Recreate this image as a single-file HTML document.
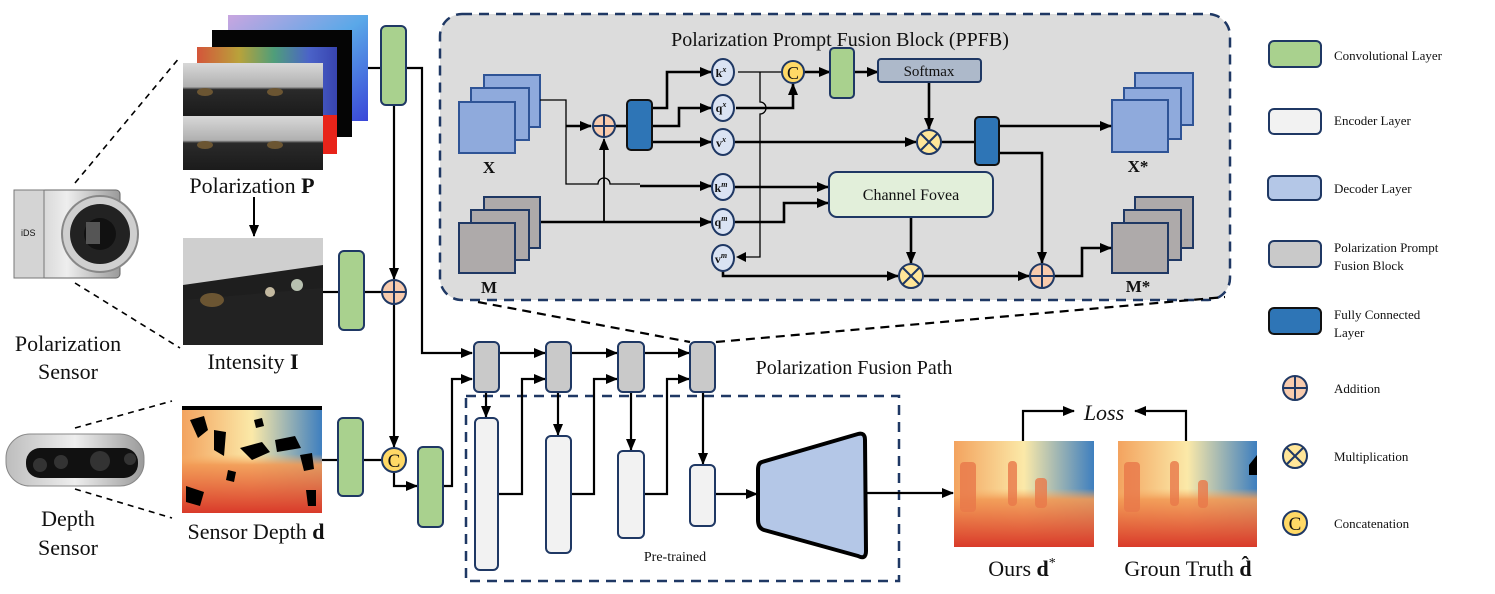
<!DOCTYPE html>
<html><head><meta charset="utf-8"><style>
html,body{margin:0;padding:0;background:#fff;width:1495px;height:594px;overflow:hidden}
svg{display:block}
text{font-family:"Liberation Serif",serif;fill:#111}
</style></head><body>
<svg width="1495" height="594" viewBox="0 0 1495 594" xmlns="http://www.w3.org/2000/svg">
<defs>
<marker id="a" markerWidth="12" markerHeight="10" refX="11" refY="5" orient="auto" markerUnits="userSpaceOnUse"><path d="M0,0 L12,5 L0,10z" fill="#000"/></marker>
<linearGradient id="gBack" x1="0" y1="0" x2="1" y2="1"><stop offset="0" stop-color="#c9a6e0"/><stop offset=".5" stop-color="#5aa8e8"/><stop offset="1" stop-color="#3a46d8"/></linearGradient>
<linearGradient id="gNoise" x1="0" y1="0" x2="1" y2="0"><stop offset="0" stop-color="#d4553a"/><stop offset=".3" stop-color="#b9a23a"/><stop offset=".55" stop-color="#4f9e7a"/><stop offset=".8" stop-color="#4b63c8"/><stop offset="1" stop-color="#3844b0"/></linearGradient>
<linearGradient id="gPhoto" x1="0" y1="0" x2="0" y2="1"><stop offset="0" stop-color="#d8d8d8"/><stop offset=".45" stop-color="#b0b0b0"/><stop offset=".5" stop-color="#2a2a2a"/><stop offset="1" stop-color="#1b1b1b"/></linearGradient>
<linearGradient id="gDepthH" x1="0" y1="0" x2="1" y2="0"><stop offset="0" stop-color="#f3a35f"/><stop offset=".5" stop-color="#fbe9a8"/><stop offset="1" stop-color="#3e7fbf"/></linearGradient>
<linearGradient id="gDepthV" x1="0" y1="0" x2="0" y2="1"><stop offset="0" stop-color="#fff" stop-opacity="0"/><stop offset=".45" stop-color="#f7b36a" stop-opacity="0"/><stop offset=".55" stop-color="#f29a55" stop-opacity=".9"/><stop offset="1" stop-color="#d93a2a" stop-opacity="1"/></linearGradient>
<linearGradient id="gCam" x1="0" y1="0" x2="1" y2="0"><stop offset="0" stop-color="#bdbdbd"/><stop offset=".5" stop-color="#eee"/><stop offset="1" stop-color="#9a9a9a"/></linearGradient>
</defs>

<!-- ============ LEFT: sensors ============ -->
<g stroke="#000" stroke-width="1.6" stroke-dasharray="6,5" fill="none">
<line x1="75" y1="183" x2="180" y2="57"/><line x1="75" y1="283" x2="180" y2="348"/>
<line x1="75" y1="428" x2="172" y2="401"/><line x1="75" y1="489" x2="172" y2="518"/>
</g>
<rect x="14" y="190" width="106" height="88" rx="4" fill="url(#gCam)" stroke="#666"/>
<rect x="14" y="190" width="30" height="88" fill="#d4d4d4" stroke="#777"/>
<text x="21" y="236" font-size="9" style="font-family:'Liberation Sans',sans-serif" fill="#555">iDS</text>
<circle cx="100" cy="234" r="38" fill="#cfcfcf" stroke="#888" stroke-width="2"/>
<circle cx="100" cy="234" r="30" fill="#222"/><circle cx="100" cy="234" r="16" fill="#111"/>
<rect x="86" y="222" width="14" height="22" fill="#555"/>
<rect x="6" y="434" width="138" height="52" rx="24" fill="url(#gCam)" stroke="#888"/>
<rect x="26" y="448" width="112" height="30" rx="14" fill="#111"/>
<circle cx="40" cy="465" r="7" fill="#333"/><circle cx="61" cy="462" r="7" fill="#333"/><circle cx="100" cy="461" r="10" fill="#333"/><circle cx="130" cy="459" r="6" fill="#333"/>
<text x="68" y="351" font-size="22" text-anchor="middle">Polarization</text>
<text x="68" y="379" font-size="22" text-anchor="middle">Sensor</text>
<text x="68" y="526" font-size="22" text-anchor="middle">Depth</text>
<text x="68" y="555" font-size="22" text-anchor="middle">Sensor</text>

<rect x="228" y="15" width="140" height="106" fill="url(#gBack)"/>
<rect x="212" y="30" width="140" height="107" fill="#050505"/>
<rect x="197" y="47" width="140" height="107" fill="url(#gNoise)"/>
<rect x="323" y="115" width="14" height="39" fill="#e8241a"/>
<g>
<rect x="183" y="63" width="70" height="53" fill="url(#gPhoto)"/><rect x="253" y="63" width="70" height="53" fill="url(#gPhoto)"/>
<rect x="183" y="116" width="70" height="54" fill="url(#gPhoto)"/><rect x="253" y="116" width="70" height="54" fill="url(#gPhoto)"/>
<ellipse cx="205" cy="92" rx="8" ry="4" fill="#6b5532"/><ellipse cx="275" cy="92" rx="8" ry="4" fill="#6b5532"/>
<ellipse cx="205" cy="145" rx="8" ry="4" fill="#6b5532"/><ellipse cx="275" cy="145" rx="8" ry="4" fill="#6b5532"/>
</g>
<text x="252" y="193" font-size="22" text-anchor="middle">Polarization <tspan font-weight="bold">P</tspan></text>
<line x1="254" y1="197" x2="254" y2="236" stroke="#000" stroke-width="2" marker-end="url(#a)"/>
<rect x="183" y="238" width="140" height="107" fill="url(#gPhoto)"/>
<rect x="183" y="238" width="140" height="50" fill="#cfcfcf"/>
<rect x="183" y="288" width="140" height="57" fill="#222"/>
<polygon points="183,285 323,265 323,288 183,300" fill="#1e1e1e"/>
<ellipse cx="212" cy="300" rx="12" ry="7" fill="#6b5532"/><circle cx="270" cy="292" r="5" fill="#c3b9a0"/><circle cx="297" cy="285" r="6" fill="#b7c0b0"/>
<text x="253" y="369" font-size="22" text-anchor="middle">Intensity <tspan font-weight="bold">I</tspan></text>
<rect x="182" y="406" width="140" height="107" fill="url(#gDepthH)"/>
<rect x="182" y="406" width="140" height="107" fill="url(#gDepthV)"/>
<g fill="#000">
<rect x="182" y="406" width="140" height="4"/>
<path d="M190,420 l14,-4 l4,14 l-10,8z"/><path d="M214,430 l12,2 l-2,24 l-10,-6z"/><path d="M240,448 l22,-6 l8,10 l-18,8z"/>
<path d="M275,440 l20,-4 l6,12 l-24,4z"/><path d="M300,455 l12,-2 l2,16 l-10,2z"/><path d="M186,486 l18,6 l-4,14 l-14,-4z"/>
<path d="M228,470 l8,2 l-2,10 l-8,-2z"/><path d="M306,490 l10,0 l0,16 l-8,0z"/><path d="M254,420 l8,-2 l2,8 l-8,2z"/>
</g>
<text x="256" y="539" font-size="22" text-anchor="middle">Sensor Depth <tspan font-weight="bold">d</tspan></text>

<g stroke="#000" stroke-width="2.2" fill="none">
<polyline points="368,68 381,68"/>
<polyline points="406,68 422,68 422,353 472,353" marker-end="url(#a)"/>
<line x1="394" y1="105" x2="394" y2="279" marker-end="url(#a)"/>
<line x1="323" y1="292" x2="339" y2="292"/><line x1="364" y1="292" x2="382" y2="292"/>
<line x1="394" y1="304" x2="394" y2="447" marker-end="url(#a)"/>
<line x1="322" y1="460" x2="338" y2="460"/><line x1="363" y1="460" x2="382" y2="460"/>
<polyline points="394,472 394,486 417,486" marker-end="url(#a)"/>
<polyline points="443,486 452,486 452,379 472,379" marker-end="url(#a)"/>
</g>
<g fill="#a9d18e" stroke="#1f3864" stroke-width="2">
<rect x="381" y="26" width="25" height="79" rx="5"/>
<rect x="339" y="251" width="25" height="79" rx="5"/>
<rect x="338" y="418" width="25" height="78" rx="5"/>
<rect x="418" y="447" width="25" height="80" rx="5"/>
</g>
<g stroke="#1f3864" stroke-width="2">
<circle cx="394" cy="292" r="12" fill="#f8cbad"/><line x1="382" y1="292" x2="406" y2="292"/><line x1="394" y1="280" x2="394" y2="304"/>
<circle cx="394" cy="460" r="12" fill="#ffd966"/>
</g>
<text x="394" y="467" font-size="19" text-anchor="middle">C</text>

<!-- ============ PPFB block ============ -->
<rect x="440" y="14" width="790" height="286" rx="22" fill="#dcdcdc" stroke="#1f3864" stroke-width="2.5" stroke-dasharray="10,7"/>
<text x="840" y="46" font-size="20" text-anchor="middle">Polarization Prompt Fusion Block (PPFB)</text>
<g fill="#8faadc" stroke="#2f5496" stroke-width="2">
<rect x="484" y="75" width="56" height="52"/><rect x="471" y="88" width="58" height="52"/><rect x="459" y="102" width="56" height="51"/>
</g>
<g fill="#aeaaaa" stroke="#1f3864" stroke-width="2">
<rect x="484" y="197" width="56" height="51"/><rect x="471" y="210" width="58" height="50"/><rect x="459" y="223" width="56" height="50"/>
</g>
<text x="489" y="173" font-size="17" font-weight="bold" text-anchor="middle">X</text>
<text x="489" y="293" font-size="17" font-weight="bold" text-anchor="middle">M</text>
<g fill="#8faadc" stroke="#2f5496" stroke-width="2">
<rect x="1135" y="73" width="58" height="52"/><rect x="1124" y="88" width="57" height="51"/><rect x="1112" y="100" width="56" height="52"/>
</g>
<g fill="#aeaaaa" stroke="#1f3864" stroke-width="2">
<rect x="1135" y="197" width="58" height="51"/><rect x="1124" y="210" width="57" height="50"/><rect x="1112" y="223" width="56" height="50"/>
</g>
<text x="1138" y="172" font-size="17" font-weight="bold" text-anchor="middle">X*</text>
<text x="1138" y="292" font-size="17" font-weight="bold" text-anchor="middle">M*</text>

<g stroke="#000" stroke-width="1.3" fill="none">
<path d="M540,100 H566 V184 H598 a6,6 0 0 1 12,0 H640"/>
<path d="M738,72 H782"/>
<path d="M760,72 V102 a6,6 0 0 1 0,12 V257 H746"/>
</g>
<polygon points="736,257 746,252 746,262" fill="#000"/>
<g stroke="#000" stroke-width="2.6" fill="none">
<polyline points="566,126 591,126" marker-end="url(#a)"/>
<line x1="604" y1="222" x2="604" y2="139" stroke-width="1.8" marker-end="url(#a)"/>
<line x1="615" y1="126" x2="627" y2="126"/>
<polyline points="652,108 667,108 667,72 711,72" marker-end="url(#a)"/>
<polyline points="652,126 679,126 679,108 711,108" marker-end="url(#a)"/>
<line x1="652" y1="142" x2="711" y2="142" marker-end="url(#a)"/>
<polyline points="736,108 793,108 793,84" marker-end="url(#a)"/>
<line x1="804" y1="72" x2="830" y2="72" marker-end="url(#a)"/>
<line x1="854" y1="72" x2="878" y2="72" marker-end="url(#a)"/>
<line x1="929" y1="82" x2="929" y2="129" marker-end="url(#a)"/>
<line x1="735" y1="142" x2="916" y2="142" marker-end="url(#a)"/>
<line x1="941" y1="142" x2="975" y2="142"/>
<line x1="999" y1="126" x2="1111" y2="126" marker-end="url(#a)"/>
<polyline points="999,153 1042,153 1042,263" marker-end="url(#a)"/>
<polyline points="640,186 711,186" marker-end="url(#a)"/>
<line x1="735" y1="187" x2="828" y2="187" marker-end="url(#a)"/>
<polyline points="541,222 711,222" marker-end="url(#a)"/>
<polyline points="735,222 784,222 784,203 828,203" marker-end="url(#a)"/>
<line x1="911" y1="217" x2="911" y2="263" marker-end="url(#a)"/>
<polyline points="723,270 723,276 898,276" marker-end="url(#a)"/>
<line x1="924" y1="276" x2="1029" y2="276" marker-end="url(#a)"/>
<polyline points="1054,276 1082,276 1082,248 1111,248" marker-end="url(#a)"/>
</g>
<g stroke="#1f3864" stroke-width="2">
<circle cx="604" cy="126" r="11" fill="#f8cbad"/><line x1="593" y1="126" x2="615" y2="126"/><line x1="604" y1="115" x2="604" y2="137"/>
<circle cx="1042" cy="276" r="12" fill="#f8cbad"/><line x1="1030" y1="276" x2="1054" y2="276"/><line x1="1042" y1="264" x2="1042" y2="288"/>
<circle cx="929" cy="142" r="12" fill="#ffe699"/><line x1="921" y1="134" x2="937" y2="150"/><line x1="937" y1="134" x2="921" y2="150"/>
<circle cx="911" cy="276" r="12" fill="#ffe699"/><line x1="903" y1="268" x2="919" y2="284"/><line x1="919" y1="268" x2="903" y2="284"/>
<circle cx="793" cy="72" r="11" fill="#ffd966"/>
</g>
<text x="793" y="79" font-size="18" text-anchor="middle">C</text>
<rect x="627" y="100" width="25" height="50" rx="4" fill="#2e75b6" stroke="#111" stroke-width="2"/>
<rect x="975" y="117" width="24" height="48" rx="4" fill="#2e75b6" stroke="#111" stroke-width="2"/>
<rect x="830" y="48" width="24" height="50" rx="4" fill="#a9d18e" stroke="#1f3864" stroke-width="2"/>
<rect x="878" y="59" width="103" height="23" rx="3" fill="#adb9ca" stroke="#1f3864" stroke-width="2"/>
<text x="929" y="76" font-size="15" text-anchor="middle">Softmax</text>
<rect x="829" y="172" width="164" height="45" rx="8" fill="#e2efda" stroke="#1f3864" stroke-width="2"/>
<text x="911" y="200" font-size="16" text-anchor="middle">Channel Fovea</text>
<g fill="#dae3f3" stroke="#1f3864" stroke-width="2">
<ellipse cx="723" cy="72" rx="11" ry="13"/><ellipse cx="723" cy="108" rx="11" ry="13"/><ellipse cx="723" cy="142" rx="11" ry="13"/>
<ellipse cx="723" cy="187" rx="11" ry="13"/><ellipse cx="723" cy="222" rx="11" ry="13"/><ellipse cx="723" cy="258" rx="11" ry="13"/>
</g>
<g font-size="12" font-weight="bold" text-anchor="middle">
<text x="721" y="77">k<tspan font-size="8" font-style="italic" dy="-5">x</tspan></text>
<text x="721" y="112">q<tspan font-size="8" font-style="italic" dy="-5">x</tspan></text>
<text x="721" y="147">v<tspan font-size="8" font-style="italic" dy="-5">x</tspan></text>
<text x="721" y="192">k<tspan font-size="8" font-style="italic" dy="-5">m</tspan></text>
<text x="721" y="226">q<tspan font-size="8" font-style="italic" dy="-5">m</tspan></text>
<text x="721" y="263">v<tspan font-size="8" font-style="italic" dy="-5">m</tspan></text>
</g>

<g stroke="#000" stroke-width="2.2" stroke-dasharray="9,6" fill="none">
<line x1="478" y1="302" x2="690" y2="342"/><line x1="716" y1="342" x2="1225" y2="297"/>
</g>

<!-- ============ fusion path ============ -->
<rect x="466" y="396" width="433" height="185" fill="none" stroke="#1f3864" stroke-width="2.5" stroke-dasharray="10,7"/>
<g stroke="#000" stroke-width="2.2" fill="none">
<line x1="499" y1="353" x2="545" y2="353" marker-end="url(#a)"/>
<line x1="571" y1="353" x2="617" y2="353" marker-end="url(#a)"/>
<line x1="644" y1="353" x2="689" y2="353" marker-end="url(#a)"/>
<line x1="486" y1="392" x2="486" y2="417" marker-end="url(#a)"/>
<line x1="558" y1="392" x2="558" y2="435" marker-end="url(#a)"/>
<line x1="631" y1="392" x2="631" y2="450" marker-end="url(#a)"/>
<line x1="703" y1="392" x2="703" y2="464" marker-end="url(#a)"/>
<polyline points="498,494 522,494 522,379 545,379" marker-end="url(#a)"/>
<polyline points="571,494 594,494 594,379 617,379" marker-end="url(#a)"/>
<polyline points="644,494 667,494 667,379 689,379" marker-end="url(#a)"/>
<line x1="715" y1="494" x2="757" y2="494" marker-end="url(#a)"/>
<line x1="866" y1="493" x2="953" y2="493" marker-end="url(#a)"/>
<polyline points="1023,441 1023,411 1074,411" marker-end="url(#a)"/>
<polyline points="1186,441 1186,411 1135,411" marker-end="url(#a)"/>
</g>
<g fill="#c9c9c9" stroke="#1f3864" stroke-width="2">
<rect x="474" y="342" width="25" height="50" rx="5"/><rect x="546" y="342" width="25" height="50" rx="5"/>
<rect x="618" y="342" width="26" height="50" rx="5"/><rect x="690" y="342" width="25" height="50" rx="5"/>
</g>
<g fill="#f2f2f2" stroke="#1f3864" stroke-width="2">
<rect x="475" y="418" width="23" height="152" rx="5"/><rect x="546" y="436" width="25" height="117" rx="5"/>
<rect x="618" y="451" width="26" height="87" rx="5"/><rect x="690" y="465" width="25" height="61" rx="5"/>
</g>
<path d="M762,462 L858,434 Q865,432 865,440 L866,551 Q866,560 858,556 L764,530 Q758,528 758,520 L758,470 Q758,463 762,462z" fill="#b4c7e7" stroke="#000" stroke-width="4" stroke-linejoin="round"/>
<text x="675" y="561" font-size="14" text-anchor="middle">Pre-trained</text>
<text x="854" y="374" font-size="20" text-anchor="middle">Polarization Fusion Path</text>

<g>
<rect x="954" y="441" width="140" height="106" fill="url(#gDepthH)"/><rect x="954" y="441" width="140" height="106" fill="url(#gDepthV)"/>
<rect x="1118" y="441" width="139" height="106" fill="url(#gDepthH)"/><rect x="1118" y="441" width="139" height="106" fill="url(#gDepthV)"/>
<g fill="#e9784a" opacity=".8">
<rect x="960" y="462" width="16" height="50" rx="4"/><rect x="1008" y="461" width="9" height="45" rx="4"/><rect x="1035" y="478" width="12" height="30" rx="4"/>
<rect x="1124" y="462" width="16" height="50" rx="4"/><rect x="1170" y="461" width="9" height="45" rx="4"/><rect x="1198" y="480" width="10" height="28" rx="4"/>
</g>
<path d="M1257,455 l-8,10 l0,10 l8,0z" fill="#000"/>
</g>
<text x="1104" y="420" font-size="22" font-style="italic" text-anchor="middle">Loss</text>
<text x="1022" y="576" font-size="22" text-anchor="middle">Ours <tspan font-weight="bold">d</tspan><tspan font-size="14" dy="-9">*</tspan></text>
<text x="1188" y="576" font-size="22" text-anchor="middle">Groun Truth <tspan font-weight="bold">d̂</tspan></text>

<!-- ============ legend ============ -->
<g stroke-width="2">
<rect x="1269" y="41" width="52" height="26" rx="5" fill="#a9d18e" stroke="#1f3864"/>
<rect x="1269" y="109" width="52" height="25" rx="5" fill="#f2f2f2" stroke="#1f3864"/>
<rect x="1268" y="176" width="53" height="24" rx="5" fill="#b4c7e7" stroke="#1f3864"/>
<rect x="1269" y="241" width="52" height="26" rx="5" fill="#c9c9c9" stroke="#1f3864"/>
<rect x="1269" y="308" width="52" height="26" rx="5" fill="#2e75b6" stroke="#111"/>
<g stroke="#1f3864">
<circle cx="1295" cy="388" r="12" fill="#f8cbad"/><line x1="1283" y1="388" x2="1307" y2="388"/><line x1="1295" y1="376" x2="1295" y2="400"/>
<circle cx="1295" cy="456" r="12" fill="#ffe699"/><line x1="1287" y1="448" x2="1303" y2="464"/><line x1="1303" y1="448" x2="1287" y2="464"/>
<circle cx="1295" cy="523" r="12" fill="#ffd966"/>
</g>
</g>
<text x="1295" y="530" font-size="19" text-anchor="middle">C</text>
<g font-size="13">
<text x="1334" y="60">Convolutional Layer</text>
<text x="1334" y="125">Encoder Layer</text>
<text x="1334" y="193">Decoder Layer</text>
<text x="1334" y="252">Polarization Prompt</text>
<text x="1334" y="270">Fusion Block</text>
<text x="1334" y="319">Fully Connected</text>
<text x="1334" y="337">Layer</text>
<text x="1334" y="393">Addition</text>
<text x="1334" y="461">Multiplication</text>
<text x="1334" y="528">Concatenation</text>
</g>
</svg>
</body></html>
